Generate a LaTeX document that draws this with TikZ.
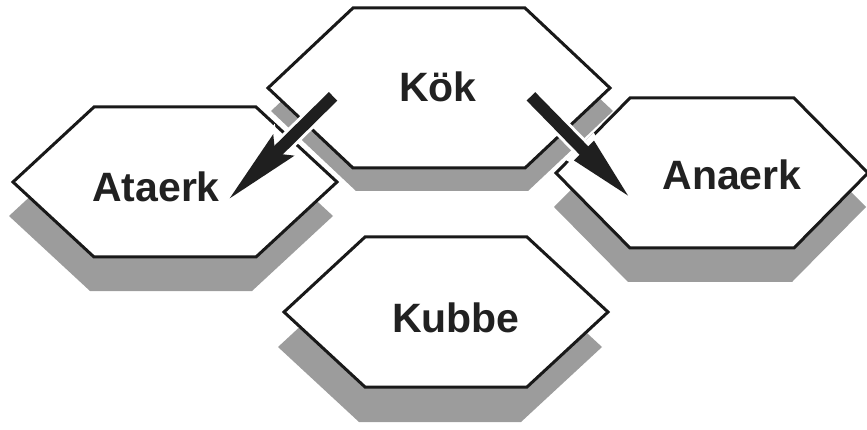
\documentclass[tikz,border=0pt]{standalone}
\usepackage{fontspec}
\setmainfont{Liberation Sans}
\usetikzlibrary{positioning}
\usetikzlibrary{arrows.meta}
\usetikzlibrary{calc}

\begin{document}
\begin{tikzpicture}[x=1pt, y=-1pt,
        hexline/.style={draw=black!90, line width=3pt, fill=white, line join=miter},
        hexshadow/.style={fill=black!39, draw=none},
        hexlabel/.style={font=\fontsize{41}{48}\selectfont\bfseries, text=black!87, inner sep=0pt, anchor=base},
        fatarrow/.style={draw=black!88, line width=12pt}]
        \useasboundingbox (0,0) rectangle (867,430);

        % shadows first, then the hexagons on top
        \foreach \cx/\cy/\w/\t/\h/\dx/\dy in {439/88/171/86/80/3/23, 175/182/162/81/75/-4/34, 712/173/156/82/75/-2/34, 446/312/162/81/75/-6/35}
        {
            \fill[hexshadow, shift={(\dx,\dy)}] (\cx-\w,\cy) -- (\cx-\t,\cy-\h) -- (\cx+\t,\cy-\h)
                -- (\cx+\w,\cy) -- (\cx+\t,\cy+\h) -- (\cx-\t,\cy+\h) -- cycle;
        }
        \foreach \cx/\cy/\w/\t/\h in {439/88/171/86/80, 175/182/162/81/75, 712/173/156/82/75, 446/312/162/81/75}
        {
            \filldraw[hexline] (\cx-\w,\cy) -- (\cx-\t,\cy-\h) -- (\cx+\t,\cy-\h)
                -- (\cx+\w,\cy) -- (\cx+\t,\cy+\h) -- (\cx-\t,\cy+\h) -- cycle;
        }

        \node[hexlabel] (kok) at (438,102) {Kök};
        \node[hexlabel] (ataerk) at (156,202) {Ataerk};
        \node[hexlabel] (anaerk) at (732,190) {Anaerk};
        \node[hexlabel] (kubbe) at (456,332) {Kubbe};

        \draw[fatarrow, -{Stealth[length=76pt, width=28pt, inset=10pt]},
            preaction={draw=white, line width=18pt, -{Stealth[length=82pt, width=38pt, inset=10pt]}}]
            ($(kok.west)+(-66,9)$) -- ($(ataerk.base east)+(8,-2)$);
        \draw[fatarrow, -{Triangle[length=72pt, width=24pt]},
            preaction={draw=white, line width=18pt, -{Triangle[length=78pt, width=32pt]}}]
            ($(kok.east)+(54,9)$) -- ($(anaerk.base west)+(-28,12)$);
    \end{tikzpicture}
\end{document}
